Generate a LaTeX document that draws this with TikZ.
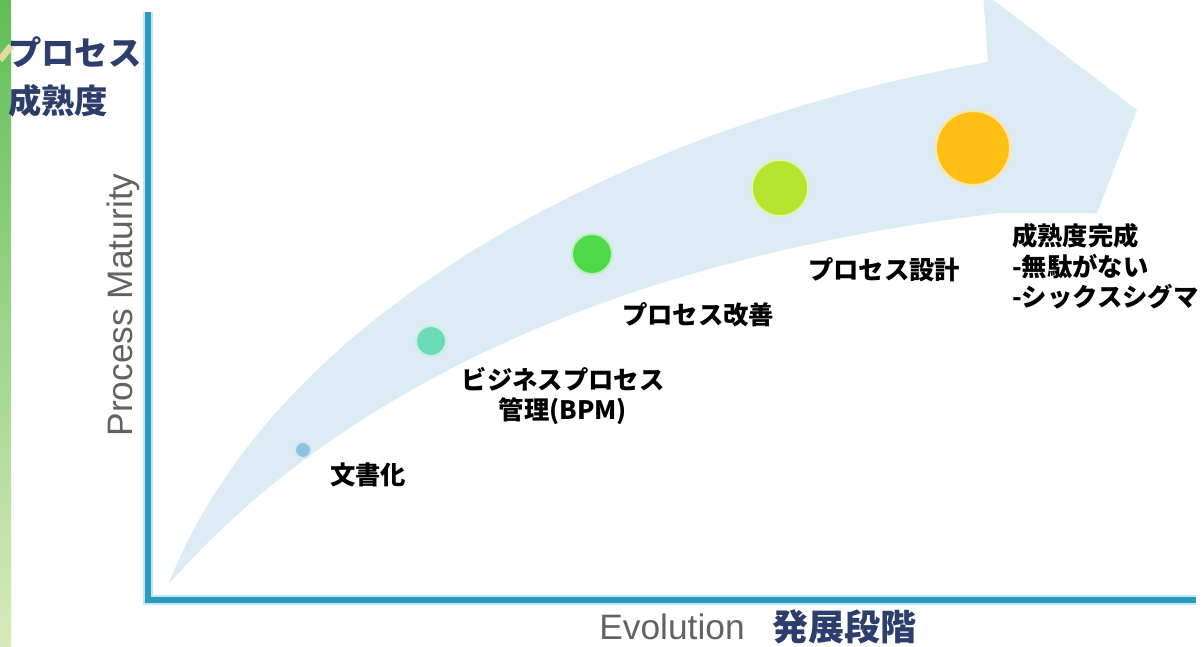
\documentclass[tikz,border=0pt]{standalone}
\usepackage{fontspec}
\newfontfamily\jp{Noto Sans CJK JP}
\newfontfamily\lsans{Liberation Sans}
\definecolor{axisblue}{HTML}{2B9AC0}
\definecolor{axisglow}{HTML}{C4E7F2}
\definecolor{navy}{HTML}{2E3E6C}
\definecolor{greytext}{HTML}{626262}
\definecolor{band}{HTML}{DDEBF4}
\definecolor{stripTop}{HTML}{5FBF56}
\definecolor{stripBot}{HTML}{D8EABB}
\definecolor{beige}{HTML}{E4D9A2}
\definecolor{cA}{HTML}{8CC4E3}
\definecolor{cB}{HTML}{6ADBB6}
\definecolor{cC}{HTML}{4DD94A}
\definecolor{cD}{HTML}{B5E52E}
\definecolor{cE}{HTML}{FFBF14}
\begin{document}
\begin{tikzpicture}[x=0.75pt,y=-0.75pt,
  dot/.style={circle,inner sep=0pt,line width=1.5pt},
  lbl/.style={font=\jp\bfseries\fontsize{19}{23}\selectfont,text=black,inner sep=0pt,align=center},
  navylbl/.style={font=\jp\bfseries\fontsize{25}{36}\selectfont,text=navy,inner sep=0pt},
  greylbl/.style={font=\lsans\fontsize{26.5}{30}\selectfont,text=greytext,inner sep=0pt},
  axisline/.style={line width=3.8pt,draw=axisblue},
  axisglowline/.style={line width=7pt,draw=axisglow}]
\useasboundingbox (0,0) rectangle (1202,646);
\begin{scope}
\clip (0,0) rectangle (1202,646);
% left strip
\shade[top color=stripTop,bottom color=stripBot] (0,0) rectangle (11,646);
\draw[beige,line width=5pt] (0,60) .. controls (5,53) .. (11,46);
% arrow band
\fill[band] (168,585) .. controls (280,300) and (650,120) .. (988,62)
  -- (983,-8) -- (1137,110) -- (1097,213) -- (1000,213)
  .. controls (600,260) and (330,400) .. (168,585) -- cycle;
\end{scope}
% axes
\coordinate (ytop) at (148,12);
\coordinate (origin) at (148,600);
\coordinate (xend) at (1196,600);
\draw[axisglowline] (ytop) -- (origin) -- (xend);
\draw[axisline] (ytop) -- (origin) -- (xend);
% dots
\node[dot,fill=cA,draw=cA!40!white,minimum size=12pt] (d1) at (303,450) {};
\node[dot,fill=cB,draw=cB!40!white,minimum size=22.5pt] (d2) at (431,341) {};
\node[dot,fill=cC,draw=cC!40!white,minimum size=30pt] (d3) at (592,254) {};
\node[dot,fill=cD,draw=cD!40!white,minimum size=42pt] (d4) at (780,188) {};
\node[dot,fill=cE,draw=cE!40!white,minimum size=55.5pt] (d5) at (973,148) {};
% labels
\node[lbl] (l1) at (368,475) {文書化};
\node[lbl] (l2) at (563,396) {ビジネスプロセス\\管理(BPM)};
\node[lbl] (l3) at (698,315) {プロセス改善};
\node[lbl] (l4) at (884,270) {プロセス設計};
\node[lbl,align=left,anchor=north west] (l5) at (1012,223) {成熟度完成\\-無駄がない\\-シックスシグマ};
% axis titles
\node[navylbl,align=left,anchor=north west] (yt) at (8,36) {プロセス\\成熟度};
\node[navylbl,font=\jp\bfseries\fontsize{27}{36}\selectfont] (xt) at (844,627) {発展段階};
\node[greylbl] (ev) at (672,627) {Evolution};
\node[greylbl,rotate=90] (pm) at (123,305) {Process Maturity};
\end{tikzpicture}
\end{document}
